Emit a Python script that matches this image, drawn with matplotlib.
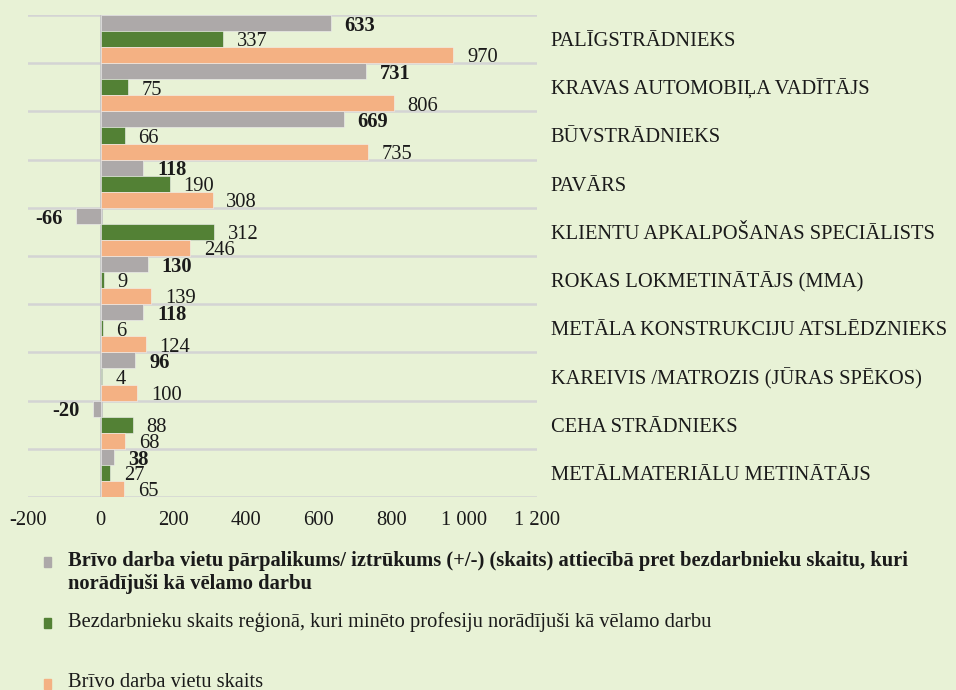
import matplotlib

matplotlib.use("Agg")
import matplotlib.pyplot as plt
import numpy as np
from matplotlib.patches import Rectangle
from matplotlib.ticker import FuncFormatter

categories = [
    "PALĪGSTRĀDNIEKS",
    "KRAVAS AUTOMOBIĻA VADĪTĀJS",
    "BŪVSTRĀDNIEKS",
    "PAVĀRS",
    "KLIENTU APKALPOŠANAS SPECIĀLISTS",
    "ROKAS LOKMETINĀTĀJS (MMA)",
    "METĀLA KONSTRUKCIJU ATSLĒDZNIEKS",
    "KAREIVIS /MATROZIS (JŪRAS SPĒKOS)",
    "CEHA STRĀDNIEKS",
    "METĀLMATERIĀLU METINĀTĀJS",
]
surplus = [633, 731, 669, 118, -66, 130, 118, 96, -20, 38]
unemployed = [337, 75, 66, 190, 312, 9, 6, 4, 88, 27]
vacancies = [970, 806, 735, 308, 246, 139, 124, 100, 68, 65]

series_names = [
    "Brīvo darba vietu pārpalikums/ iztrūkums (+/-) (skaits) attiecībā pret bezdarbnieku skaitu, kuri\nnorādījuši kā vēlamo darbu",
    "Bezdarbnieku skaits reģionā, kuri minēto profesiju norādījuši kā vēlamo darbu",
    "Brīvo darba vietu skaits",
]
colors = ["#ADA9A9", "#538135", "#F4B183"]
bg = "#E8F2D6"
fs = 14.8

plt.rcParams["font.family"] = ["Liberation Serif", "DejaVu Serif"]

W, H = 956, 690
fig = plt.figure(figsize=(W / 100, H / 100), dpi=100, facecolor=bg)
ax = fig.add_axes([27.75 / W, 1 - 497 / H, 509.25 / W, 482 / H])
ax.set_facecolor(bg)

n = len(categories)
y = np.arange(n)
h = 1 / 3
series = [surplus, unemployed, vacancies]
for k, (vals, col) in enumerate(zip(series, colors)):
    pos = y + (k - 1) * h
    ax.barh(pos, vals, height=h, color=col, edgecolor="#f2f2f2", linewidth=0.4, zorder=3)
    for p, v in zip(pos, vals):
        if v >= 0:
            ax.annotate(f"{v}", (v, p), xytext=(10, -2), textcoords="offset points",
                        ha="left", va="center", fontsize=fs,
                        fontweight="bold" if k == 0 else "normal", color="#1a1a1a", zorder=5)
        else:
            ax.annotate(f"{v}", (v, p), xytext=(-10, -2), textcoords="offset points",
                        ha="right", va="center", fontsize=fs,
                        fontweight="bold", color="#1a1a1a", zorder=5)

ax.set_xlim(-200, 1200)
ax.set_ylim(n - 0.5, -0.5)
ax.set_xticks(np.arange(-200, 1201, 200))
ax.xaxis.set_major_formatter(FuncFormatter(lambda v, _: f"{int(v):,}".replace(",", " ")))
ax.tick_params(axis="x", length=0, pad=10, labelsize=fs, labelcolor="#1a1a1a")

ax.yaxis.tick_right()
ax.set_yticks(y)
ax.set_yticklabels(categories)
ax.tick_params(axis="y", length=0, pad=10, labelsize=fs, labelcolor="#1a1a1a")
ax.set_yticks(np.arange(-0.5, n, 1), minor=True)
ax.tick_params(axis="y", which="minor", length=0)
ax.grid(axis="y", which="minor", color="#d4d4d4", linewidth=1.8, zorder=0)
ax.grid(axis="y", which="major", visible=False)
ax.axvline(0, color="#c4c4c4", linewidth=2, zorder=2)
for s in ax.spines.values():
    s.set_visible(False)

# legend
leg_y = [562, 623, 684]
for name, col, ly in zip(series_names, colors, leg_y):
    fig.patches.append(Rectangle((44 / W, 1 - (ly + 5) / H), 7 / W, 10 / H,
                                 transform=fig.transFigure, color=col, figure=fig))
    first = name == series_names[0]
    fig.text(68 / W, 1 - (ly - 11) / H, name, ha="left", va="top", fontsize=fs,
             fontweight="bold" if first else "normal", linespacing=1.2, color="#1a1a1a")

fig.savefig("out.png", dpi=100, facecolor=bg)
